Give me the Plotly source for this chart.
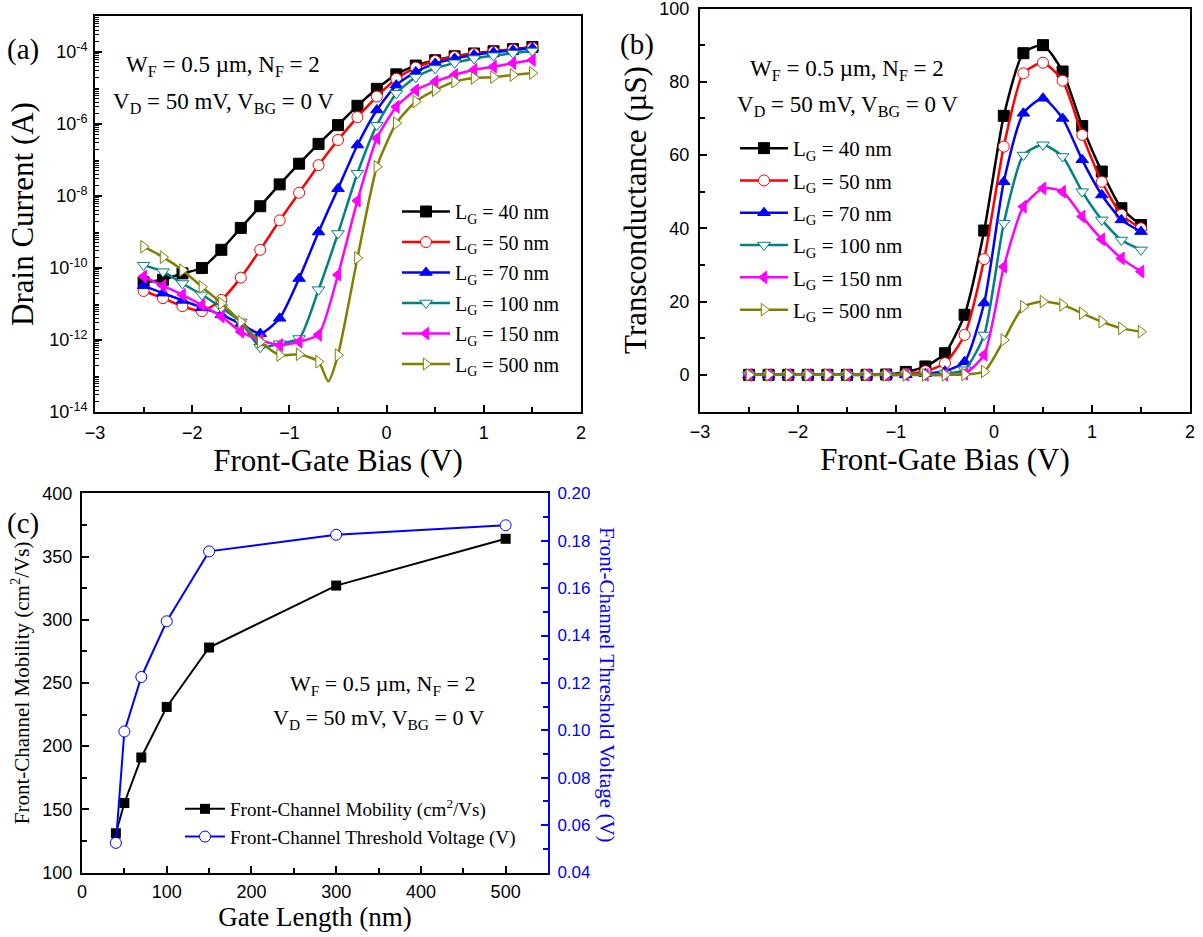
import plotly.graph_objects as go

# ---------------- data ----------------
vg = [-2.5, -2.3, -2.1, -1.9, -1.7, -1.5, -1.3, -1.1, -0.9, -0.7, -0.5,
      -0.3, -0.1, 0.1, 0.3, 0.5, 0.7, 0.9, 1.1, 1.3, 1.5]

lg_labels = ["40", "50", "70", "100", "150", "500"]

# (a) drain current, A
id_40 = [4.0e-11, 4.7e-11, 7.1e-11, 1.0e-10, 3.2e-10, 1.3e-9, 5.2e-9, 2.1e-8, 7.9e-8, 2.8e-7, 9.3e-7,
         3.2e-6, 9.5e-6, 2.4e-5, 4.2e-5, 5.9e-5, 7.6e-5, 9.1e-5, 1.05e-4, 1.2e-4, 1.38e-4]
id_50 = [2.3e-11, 1.45e-11, 8.7e-12, 6.3e-12, 1.3e-11, 5.4e-11, 3.2e-10, 2.1e-9, 1.23e-8, 7.2e-8, 3.6e-7,
         1.55e-6, 5.8e-6, 1.8e-5, 3.7e-5, 5.6e-5, 7.4e-5, 8.9e-5, 1.02e-4, 1.17e-4, 1.32e-4]
id_70 = [3.2e-11, 2.0e-11, 1.26e-11, 7.9e-12, 5.0e-12, 2.8e-12, 1.5e-12, 4.0e-12, 5.1e-11, 1.0e-9, 1.6e-8,
         2.6e-7, 2.45e-6, 1.2e-5, 2.8e-5, 4.8e-5, 6.6e-5, 8.3e-5, 9.8e-5, 1.12e-4, 1.29e-4]
id_100 = [1.2e-10, 7.9e-11, 3.7e-11, 1.8e-11, 7.9e-12, 3.2e-12, 6.3e-13, 7.9e-13, 1.1e-12, 2.5e-11, 9.1e-10,
          4.3e-8, 9.3e-7, 7.1e-6, 2.0e-5, 3.5e-5, 5.0e-5, 6.6e-5, 7.9e-5, 9.3e-5, 1.07e-4]
id_150 = [5.8e-11, 3.2e-11, 1.8e-11, 9.3e-12, 4.5e-12, 1.7e-12, 1.0e-12, 7.2e-13, 8.9e-13, 1.4e-12, 6.5e-11,
          7.4e-9, 4.0e-7, 3.0e-6, 8.7e-6, 1.5e-5, 2.3e-5, 3.2e-5, 3.9e-5, 4.9e-5, 6.0e-5]
id_500 = [3.9e-10, 2.0e-10, 8.7e-11, 3.0e-11, 1.05e-11, 3.2e-12, 8.9e-13, 3.8e-13, 4.0e-13, 2.5e-13, 3.8e-13,
          1.9e-10, 6.5e-8, 1.05e-6, 4.2e-6, 8.7e-6, 1.5e-5, 1.9e-5, 2.0e-5, 2.3e-5, 2.6e-5]
# sharp minimum of the 500 nm curve between markers
dip_500_v = [-0.6]
dip_500_i = [7.1e-14]

# (b) transconductance, uS
gm_40 = [0, 0, 0, 0, 0, 0, 0, 0.1, 0.8, 2.3, 5.9, 16.4, 39.4, 70.7, 87.8, 90.0, 82.8, 67.9, 55.5, 45.5, 40.9]
gm_50 = [0, 0, 0, 0, 0, 0, 0, 0, 0.3, 1.0, 3.2, 10.9, 31.6, 62.3, 82.3, 85.2, 80.3, 65.5, 52.7, 43.7, 40.0]
gm_70 = [0, 0, 0, 0, 0, 0, 0, 0, 0, 0.3, 1.0, 3.6, 19.6, 52.7, 71.4, 75.5, 70.0, 58.7, 49.1, 42.3, 39.1]
gm_100 = [0, 0, 0, 0, 0, 0, 0, 0, 0, 0, 0.3, 1.4, 10.9, 41.4, 60.0, 62.8, 59.6, 50.0, 42.3, 36.8, 34.1]
gm_150 = [0, 0, 0, 0, 0, 0, 0, 0, 0, 0, 0, 0.3, 5.5, 29.5, 45.9, 50.9, 50.0, 43.2, 37.0, 31.8, 28.2]
gm_500 = [0, 0, 0, 0, 0, 0, 0, 0, 0, 0, 0, 0.1, 0.9, 9.5, 18.6, 20.0, 19.1, 16.8, 14.5, 12.7, 11.8]

# (c)
gate_length = [40, 50, 70, 100, 150, 300, 500]
mobility = [131, 155, 191, 231, 278, 327, 364]
vth = [0.0525, 0.0995, 0.1225, 0.146, 0.1755, 0.1825, 0.1865]

# (a) y tick labels
ytick_vals_a = [1e-14, 1e-12, 1e-10, 1e-8, 1e-6, 1e-4]
ytick_text_a = ["10<sup>-14</sup>", "10<sup>-12</sup>", "10<sup>-10</sup>",
                "10<sup>-8</sup>", "10<sup>-6</sup>", "10<sup>-4</sup>"]

# ---------------- styles ----------------
colors = ["#000000", "#FF0000", "#0000FF", "#008080", "#FF00FF", "#808000"]
symbols = ["square", "circle", "triangle-up", "triangle-down", "triangle-left", "triangle-right"]
fills = ["#000000", "#FFFFFF", "#0000FF", "#FFFFFF", "#FF00FF", "#FFFFFF"]

SERIF = "Liberation Serif, Times New Roman, serif"
SANS = "Liberation Sans, Arial, sans-serif"
W, H = 1203, 937


def px(x):
    return x / W


def py(y):
    return 1 - y / H


fig = go.Figure()

id_sets = [id_40, id_50, id_70, id_100, id_150, id_500]
gm_sets = [gm_40, gm_50, gm_70, gm_100, gm_150, gm_500]

for k in range(6):
    xs = list(vg)
    ys = list(id_sets[k])
    sizes = [11] * len(xs)
    if k == 5:
        pos = xs.index(-0.5)
        xs.insert(pos, dip_500_v[0])
        ys.insert(pos, dip_500_i[0])
        sizes.insert(pos, 0)
    fig.add_trace(go.Scatter(
        x=xs, y=ys, mode="lines+markers", xaxis="x", yaxis="y",
        name="L<sub>G</sub> = %s nm" % lg_labels[k], legend="legend",
        legendgroup="a%d" % k,
        line=dict(color=colors[k], width=2.5, shape="spline", smoothing=0.6),
        marker=dict(symbol=symbols[k], size=sizes, color=fills[k], opacity=1,
                    line=dict(color=colors[k], width=1)),
    ))

for k in range(6):
    fig.add_trace(go.Scatter(
        x=vg, y=gm_sets[k], mode="lines+markers", xaxis="x2", yaxis="y2",
        name="L<sub>G</sub> = %s nm" % lg_labels[k], legend="legend2",
        legendgroup="b%d" % k,
        line=dict(color=colors[k], width=2.5, shape="spline", smoothing=0.6),
        marker=dict(symbol=symbols[k], size=11, color=fills[k], opacity=1,
                    line=dict(color=colors[k], width=1)),
    ))

fig.add_trace(go.Scatter(
    x=gate_length, y=mobility, mode="lines+markers", xaxis="x3", yaxis="y3",
    name="Front-Channel Mobility (cm<sup>2</sup>/Vs)", legend="legend3",
    line=dict(color="#000000", width=2),
    marker=dict(symbol="square", size=10, color="#000000"),
))
fig.add_trace(go.Scatter(
    x=gate_length, y=vth, mode="lines+markers", xaxis="x3", yaxis="y4",
    name="Front-Channel Threshold Voltage (V)", legend="legend3",
    line=dict(color="#0000FF", width=2),
    marker=dict(symbol="circle", size=11, color="#FFFFFF", line=dict(color="#0000FF", width=1)),
))

axis_common = dict(showline=True, linewidth=2, linecolor="black", mirror=True,
                   ticks="inside", tickwidth=1.5, tickcolor="black", ticklen=7,
                   showgrid=False, zeroline=False, automargin=False,
                   ticklabeloverflow="allow",
                   tickfont=dict(family=SANS, size=18, color="black"))

fig.update_layout(
    width=W, height=H, autosize=False,
    margin=dict(l=0, r=0, t=0, b=0, pad=0),
    paper_bgcolor="white", plot_bgcolor="white",
    font=dict(family=SERIF, color="black"),
    showlegend=True,
    xaxis=dict(domain=[px(95), px(581)], anchor="y", range=[-3, 2], dtick=1,
               minor=dict(dtick=0.5, ticks="inside", ticklen=5, tickcolor="black", tickwidth=1.5),
               ticklabelstandoff=3,
               title=dict(text="Front-Gate Bias (V)", font=dict(family=SERIF, size=31), standoff=4),
               **axis_common),
    yaxis=dict(domain=[py(412), py(16)], anchor="x", type="log", range=[-14, -3],
               tickmode="array", tickvals=ytick_vals_a, ticktext=ytick_text_a,
               minor=dict(ticks="inside", ticklen=4, tickcolor="black", tickwidth=1, dtick="D1"),
               ticklabelstandoff=2,
               title=dict(text="Drain Current (A)", font=dict(family=SERIF, size=31), standoff=6),
               **axis_common),
    xaxis2=dict(domain=[px(700), px(1190)], anchor="y2", range=[-3, 2], dtick=1,
                minor=dict(dtick=0.5, ticks="inside", ticklen=5, tickcolor="black", tickwidth=1.5),
                ticklabelstandoff=3,
                title=dict(text="Front-Gate Bias (V)", font=dict(family=SERIF, size=31), standoff=4),
                **axis_common),
    yaxis2=dict(domain=[py(411.5), py(8.5)], anchor="x2", range=[-10, 100], dtick=20,
                minor=dict(dtick=10, ticks="inside", ticklen=5, tickcolor="black", tickwidth=1.5),
                ticklabelstandoff=5,
                title=dict(text="Transconductance (µS)", font=dict(family=SERIF, size=31), standoff=4),
                **axis_common),
    xaxis3=dict(domain=[px(82), px(548)], anchor="y3", range=[0, 550], dtick=100,
                minor=dict(dtick=50, ticks="inside", ticklen=5, tickcolor="black", tickwidth=1.5),
                ticklabelstandoff=2,
                title=dict(text="Gate Length (nm)", font=dict(family=SERIF, size=27), standoff=6),
                **axis_common),
    yaxis3=dict(domain=[py(872.5), py(493.3)], anchor="x3", range=[100, 400], dtick=50,
                minor=dict(dtick=25, ticks="inside", ticklen=5, tickcolor="black", tickwidth=1.5),
                ticklabelstandoff=4,
                title=dict(text="Front-Channel Mobility (cm<sup>2</sup>/Vs)", font=dict(family=SERIF, size=21), standoff=7),
                **{**axis_common, "mirror": False}),
    yaxis4=dict(overlaying="y3", anchor="x3", side="right", range=[0.04, 0.20], dtick=0.02,
                tickformat=".2f", automargin=False, ticklabeloverflow="allow",
                showline=True, linewidth=2, linecolor="#0000FF", mirror=False,
                ticks="inside", tickwidth=1.5, tickcolor="#0000FF", ticklen=7,
                minor=dict(dtick=0.01, ticks="inside", ticklen=5, tickcolor="#0000FF", tickwidth=1.5),
                showgrid=False, zeroline=False, ticklabelstandoff=4,
                tickfont=dict(family=SANS, size=17, color="#0000FF")),
    legend=dict(x=px(397), y=py(192), xanchor="left", yanchor="top",
                bgcolor="rgba(0,0,0,0)", font=dict(family=SERIF, size=20),
                tracegroupgap=1.5, itemwidth=48),
    legend2=dict(x=px(735), y=py(128), xanchor="left", yanchor="top",
                 bgcolor="rgba(0,0,0,0)", font=dict(family=SERIF, size=21),
                 tracegroupgap=2, itemwidth=48),
    legend3=dict(x=px(180), y=py(790), xanchor="left", yanchor="top",
                 bgcolor="rgba(0,0,0,0)", font=dict(family=SERIF, size=19),
                 tracegroupgap=0, itemwidth=40),
)

# right-axis title of panel (c)
fig.add_annotation(x=px(593), y=py(685), xref="paper", yref="paper",
                   text="Front-Channel Threshold Voltage (V)", textangle=90,
                   showarrow=False, font=dict(family=SERIF, size=21, color="#0000FF"),
                   xanchor="left", yanchor="middle")

notes = [
    (223, 66, "W<sub>F</sub> = 0.5 µm, N<sub>F</sub> = 2", 23),
    (223, 103, "V<sub>D</sub> = 50 mV, V<sub>BG</sub> = 0 V", 23),
    (847, 70, "W<sub>F</sub> = 0.5 µm, N<sub>F</sub> = 2", 23),
    (847, 106, "V<sub>D</sub> = 50 mV, V<sub>BG</sub> = 0 V", 23),
    (382, 685, "W<sub>F</sub> = 0.5 µm, N<sub>F</sub> = 2", 22),
    (378, 719, "V<sub>D</sub> = 50 mV, V<sub>BG</sub> = 0 V", 22),
]
for x, y, t, s in notes:
    fig.add_annotation(x=px(x), y=py(y), xref="paper", yref="paper", text=t,
                       showarrow=False, font=dict(family=SERIF, size=s, color="black"),
                       xanchor="center", yanchor="middle")

for x, y, t in [(23, 50, "(a)"), (637, 45, "(b)"), (23, 523, "(c)")]:
    fig.add_annotation(x=px(x), y=py(y), xref="paper", yref="paper", text=t,
                       showarrow=False, font=dict(family=SERIF, size=29, color="black"),
                       xanchor="center", yanchor="middle")

fig.write_html("out.html", config={"displayModeBar": False},
               post_script="document.body.style.margin='0px';")
